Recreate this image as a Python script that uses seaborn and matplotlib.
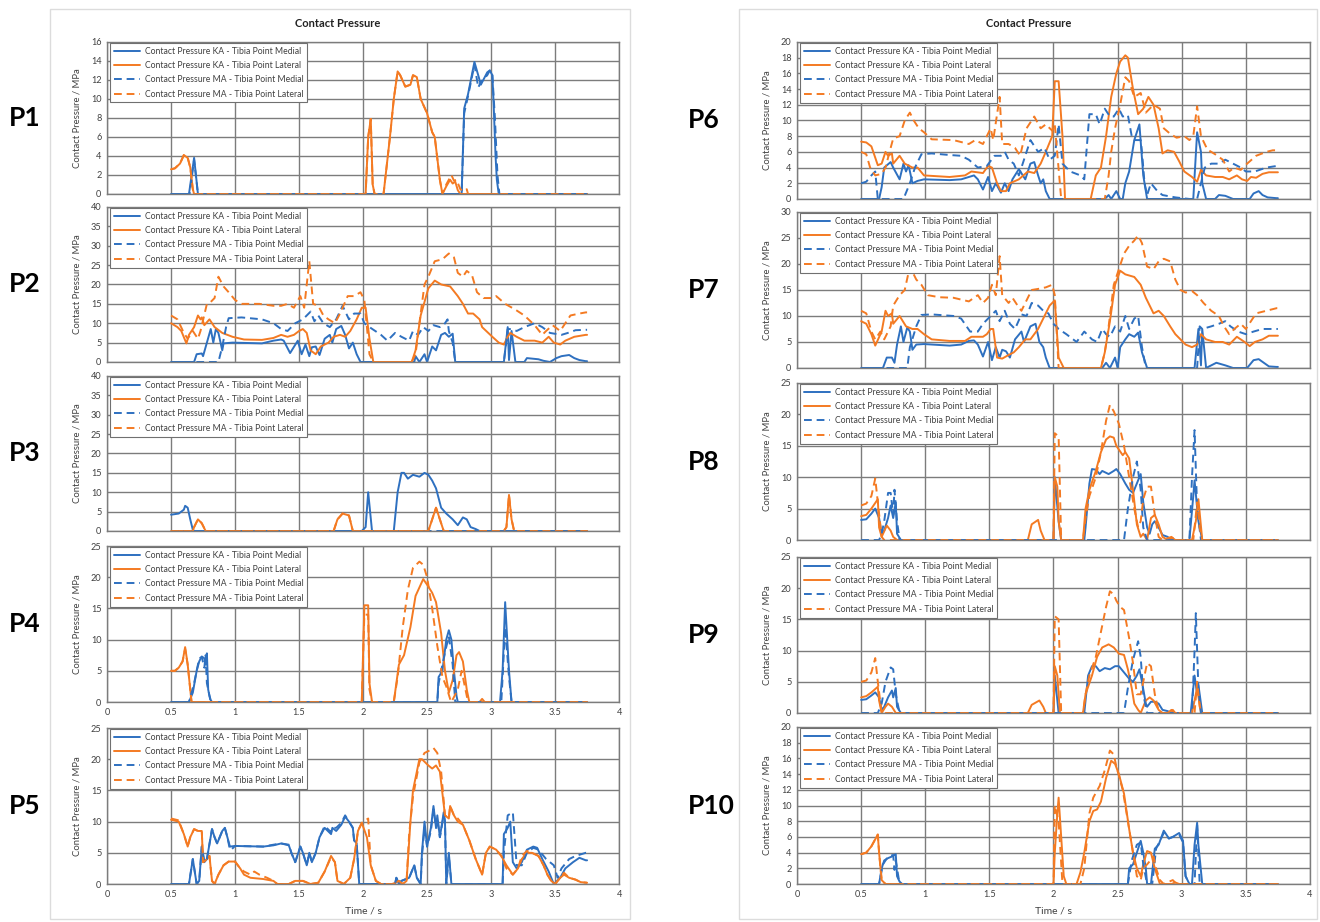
import numpy as np
import pandas as pd
import matplotlib
matplotlib.use("Agg")
import matplotlib.pyplot as plt
import seaborn as sns
from matplotlib.patches import Rectangle

# ---- series names / colours ----
SERIES = ["Contact Pressure KA - Tibia Point Medial",
          "Contact Pressure KA - Tibia Point Lateral",
          "Contact Pressure MA - Tibia Point Medial",
          "Contact Pressure MA - Tibia Point Lateral"]
BLUE = "#2E70C0"
ORANGE = "#F47A22"

# ---- P1 ----
p1_kam_t = [0.5, 0.64, 0.68, 0.71, 2.77, 2.79, 2.82, 2.87, 2.91, 2.92, 2.97, 2.99, 3.01, 3.02, 3.035, 3.045, 3.06, 3.75]
p1_kam_v = [0, 0, 3.8, 0, 0, 9, 10.5, 13.9, 12, 11.5, 12.8, 13, 12.5, 9.5, 4, 1.5, 0, 0]
p1_kal_t = [0.5, 0.53, 0.57, 0.60, 0.63, 0.65, 0.67, 0.68, 2.02, 2.04, 2.06, 2.075, 2.09, 2.16, 2.21, 2.24, 2.27, 2.29,
            2.33, 2.37, 2.39, 2.42, 2.45, 2.50, 2.54, 2.56, 2.60, 2.62, 2.65, 2.68, 2.70, 2.72, 2.74, 2.76, 3.75]
p1_kal_v = [2.6, 2.7, 3.2, 4.1, 3.8, 2.8, 0.5, 0, 0, 6, 7.9, 1, 0, 0, 6, 10, 12.9, 12.5,
            11.3, 11.5, 12.5, 12.3, 10, 8.5, 6.5, 6, 1.5, 0, 0.8, 1.5, 1.1, 1.3, 0.4, 0, 0]
p1_mam_t = [0.5, 0.645, 0.68, 0.71, 2.77, 2.79, 2.82, 2.87, 2.90, 2.92, 2.97, 2.99, 3.01, 3.03, 3.05, 3.065, 3.75]
p1_mam_v = [0, 0, 3.6, 0, 0, 8.5, 10.3, 13.6, 11.2, 11.8, 12.5, 13, 12.5, 8, 2, 0, 0]
p1_mal_t = [0.5, 0.53, 0.57, 0.60, 0.63, 0.65, 0.67, 0.68, 2.02, 2.04, 2.06, 2.075, 2.09, 2.16, 2.21, 2.24, 2.27, 2.29,
            2.33, 2.37, 2.39, 2.42, 2.45, 2.50, 2.54, 2.56, 2.60, 2.62, 2.65, 2.69, 2.71, 2.73, 2.76, 2.79, 2.81, 2.82, 3.75]
p1_mal_v = [2.6, 2.7, 3.2, 4.1, 3.8, 2.8, 0.5, 0, 0, 6, 7.9, 1, 0, 0, 6, 10, 12.9, 12.5,
            11.3, 11.5, 12.5, 12.3, 10, 8.5, 6.5, 6, 1.5, 0, 1.0, 2.0, 1.4, 1.5, 0.5, 0.3, 0.5, 0, 0]

# ---- P2 ----
p2_kam_t = [0.5, 0.68, 0.70, 0.74, 0.75, 0.78, 0.81, 0.83, 0.85, 0.87, 0.90, 0.91, 0.98, 1.21, 1.30, 1.36, 1.38, 1.43,
            1.49, 1.52, 1.55, 1.58, 1.60, 1.63, 1.66, 1.70, 1.74, 1.76, 1.79, 1.83, 1.86, 1.89, 1.92, 1.95, 1.98,
            2.40, 2.41, 2.44, 2.48, 2.50, 2.54, 2.57, 2.61, 2.64, 2.67, 2.70, 2.72, 3.10, 3.13, 3.14, 3.16, 3.19,
            3.26, 3.28, 3.37, 3.41, 3.46, 3.51, 3.55, 3.61, 3.65, 3.69, 3.74, 3.75]
p2_kam_v = [0, 0, 2, 2.2, 1.5, 5, 8.5, 5, 8.5, 7.5, 3, 4.8, 5, 4.8, 5.5, 5.8, 5.5, 2.3,
            5.5, 2, 4.5, 1.5, 3.8, 4, 1.8, 6, 7, 5, 8.5, 9.3, 7, 3.5, 5, 2, 0,
            0, 1.5, 0, 2, 0, 4, 3, 7, 7.5, 6.5, 7.3, 0, 0, 9, 0.5, 8, 0,
            0, 1, 0.7, 0.3, 0, 1, 1.5, 1.8, 1, 0.5, 0.2, 0.2]
p2_kal_t = [0.5, 0.55, 0.58, 0.62, 0.64, 0.68, 0.71, 0.73, 0.74, 0.76, 0.80, 0.84, 0.90, 0.98, 1.07, 1.21, 1.30, 1.36,
            1.41, 1.46, 1.50, 1.53, 1.56, 1.59, 1.63, 1.67, 1.73, 1.77, 1.82, 1.86, 1.90, 1.95, 1.99, 2.02, 2.05, 2.08,
            2.38, 2.41, 2.45, 2.51, 2.56, 2.61, 2.68, 2.74, 2.78, 2.82, 2.86, 2.91, 2.93, 3.01, 3.06, 3.10, 3.13, 3.15,
            3.20, 3.26, 3.34, 3.40, 3.45, 3.49, 3.54, 3.58, 3.65, 3.74, 3.75]
p2_kal_v = [10, 9, 8, 4.8, 7, 9, 12, 11, 11.5, 9.5, 11, 9, 7.5, 6.5, 5.8, 5.7, 6.2, 7,
            6.5, 7, 8, 8.5, 7.5, 3, 2, 4, 5, 6.5, 7, 6.5, 8, 11, 14, 14, 6, 0,
            0, 3, 12, 19, 21, 20, 19.5, 17, 15, 12.5, 12.5, 11, 9, 6.5, 5, 4.5, 6.5, 7.5,
            6.5, 5.5, 5.5, 5, 6.5, 5, 4.5, 5.5, 6.5, 7, 7]
p2_mam_t = [0.5, 0.87, 0.90, 0.93, 0.95, 1.05, 1.21, 1.30, 1.36, 1.41, 1.47, 1.53, 1.59, 1.62, 1.65, 1.69, 1.74, 1.79,
            1.84, 1.89, 1.93, 1.98, 2.01, 2.05, 2.14, 2.19, 2.25, 2.30, 2.36, 2.39, 2.43, 2.47, 2.51, 2.55, 2.60, 2.63,
            2.66, 2.67, 2.70, 2.72, 3.10, 3.13, 3.16, 3.20, 3.26, 3.34, 3.40, 3.46, 3.55, 3.60, 3.66, 3.74, 3.75]
p2_mam_v = [0, 0, 4, 9, 11.3, 11.5, 11, 10, 8.5, 8, 10, 11, 13, 10.5, 12, 10, 9, 11,
            14.5, 11, 12.5, 12.5, 10, 9, 7, 5.5, 7.5, 6.5, 5.5, 8, 7, 9, 8, 9.5, 9, 9.5,
            11, 8, 5, 0, 0, 8.5, 8.5, 8, 9, 10, 9, 7.5, 7, 7.5, 8.2, 8.3, 8.3]
p2_mal_t = [0.5, 0.55, 0.60, 0.63, 0.67, 0.71, 0.73, 0.78, 0.81, 0.84, 0.87, 0.91, 0.95, 1.00, 1.05, 1.19, 1.30, 1.36,
            1.41, 1.46, 1.51, 1.54, 1.58, 1.61, 1.65, 1.69, 1.73, 1.78, 1.82, 1.88, 1.93, 1.98, 2.01, 2.05, 2.08,
            2.38, 2.41, 2.44, 2.48, 2.51, 2.56, 2.62, 2.67, 2.71, 2.74, 2.78, 2.81, 2.85, 2.89, 2.94, 3.01, 3.04,
            3.11, 3.19, 3.26, 3.34, 3.40, 3.43, 3.48, 3.54, 3.58, 3.62, 3.69, 3.74, 3.75]
p2_mal_v = [12, 11, 7.5, 6, 8, 6, 8, 15, 15.5, 16.5, 22, 19.5, 18, 16, 15, 15, 14.5, 14.5,
            15, 14, 17, 14, 26, 15, 14.5, 12, 11, 10, 12.5, 17, 17, 18, 16, 2, 0,
            0, 2, 10, 20, 22, 26, 26.5, 28, 27, 23, 22, 23.5, 22.5, 18, 16.5, 16.5, 17,
            15, 13.5, 12, 9.5, 7, 8, 9.5, 8, 10, 12, 12.5, 12.8, 12.8]

# ---- P3 ----
p3_kam_t = [0.5, 0.56, 0.60, 0.61, 0.63, 0.65, 0.67, 0.68, 1.99, 2.02, 2.04, 2.07, 2.24, 2.27, 2.30, 2.32, 2.35, 2.39,
            2.44, 2.48, 2.51, 2.54, 2.57, 2.61, 2.65, 2.70, 2.74, 2.78, 2.81, 2.84, 2.88, 2.91, 3.75]
p3_kam_v = [4.2, 4.5, 5.5, 6.5, 6, 3, 0.3, 0, 0, 1, 10, 0, 0, 10, 15, 15, 13.5, 14.5,
            14, 15, 14.5, 13, 11, 6, 4.5, 3, 1.5, 3.5, 3, 1, 0.5, 0, 0]
p3_kal_t = [0.5, 0.67, 0.68, 0.71, 0.74, 0.77, 1.77, 1.80, 1.84, 1.89, 1.92, 2.51, 2.55, 2.57, 2.59, 2.63,
            3.10, 3.12, 3.14, 3.16, 3.18, 3.75]
p3_kal_v = [0, 0, 1, 3, 2, 0, 0, 3, 4.5, 4, 0, 0, 4, 6, 4, 0, 0, 1, 9.3, 3, 0, 0]
p3_mam_t = [0.5, 3.75]
p3_mam_v = [0, 0]
p3_mal_t = p3_kal_t
p3_mal_v = p3_kal_v

# ---- P4 ----
p4_kam_t = [0.5, 0.64, 0.67, 0.70, 0.72, 0.74, 0.76, 0.77, 0.78, 0.79, 0.80, 0.81, 0.82, 2.58, 2.59, 2.62, 2.65, 2.67,
            2.69, 2.71, 2.73, 2.74, 3.07, 3.09, 3.11, 3.14, 3.16, 3.75]
p4_kam_v = [0, 0, 1.5, 5, 6.5, 7.3, 7, 6, 7.8, 2, 1, 0.3, 0, 0, 4, 5, 10, 11.5,
            10, 5, 1, 0, 0, 5, 16, 5, 0, 0]
p4_kal_t = [0.5, 0.53, 0.56, 0.59, 0.61, 0.63, 0.65, 0.66, 1.99, 2.01, 2.04, 2.05, 2.07, 2.24, 2.25, 2.28, 2.32, 2.37,
            2.41, 2.47, 2.51, 2.54, 2.57, 2.61, 2.64, 2.67, 2.70, 2.73, 2.75, 2.78, 2.81, 2.83, 2.91, 2.93, 2.95, 3.75]
p4_kal_v = [5, 5, 5.5, 6.5, 8.8, 6, 2, 0, 0, 15.5, 15.5, 3, 0, 0, 1.5, 6, 7.5, 12,
            17, 19.7, 18.5, 17.5, 16, 11, 5, 1.5, 3.5, 7.5, 8, 6.5, 2, 0, 0, 0.5, 0, 0]
p4_mam_t = [0.5, 0.64, 0.68, 0.72, 0.74, 0.76, 0.77, 0.78, 0.81, 2.58, 2.59, 2.64, 2.67, 2.70, 2.72,
            3.08, 3.09, 3.11, 3.14, 3.16, 3.75]
p4_mam_v = [0, 0, 3, 7, 7.2, 5.5, 7.5, 3, 0, 0, 3, 8, 10.5, 6, 0, 0, 4, 12, 4, 0, 0]
p4_mal_t = [0.5, 0.53, 0.56, 0.59, 0.61, 0.63, 0.65, 0.66, 1.99, 2.01, 2.04, 2.05, 2.07, 2.24, 2.27, 2.31, 2.35, 2.39,
            2.44, 2.47, 2.50, 2.54, 2.58, 2.62, 2.65, 2.68, 2.69, 2.74, 2.77, 2.79, 2.82, 3.75]
p4_mal_v = [5, 5, 5.5, 6.5, 8.5, 6, 2, 0, 0, 14, 14, 2, 0, 0, 4, 12, 18, 21.5,
            22.5, 22, 20, 15, 9, 4, 2.5, 0.5, 0, 2, 5, 3, 0, 0]

# ---- P5 ----
p5_kam_t = [0.5, 0.64, 0.67, 0.70, 0.72, 0.74, 0.76, 0.78, 0.82, 0.84, 0.86, 0.90, 0.92, 0.94, 0.96, 1.00, 1.22, 1.30,
            1.36, 1.42, 1.44, 1.47, 1.51, 1.53, 1.56, 1.58, 1.60, 1.63, 1.66, 1.70, 1.75, 1.76, 1.79, 1.83, 1.86, 1.89,
            1.92, 1.93, 1.95, 1.97, 2.25, 2.26, 2.28, 2.30, 2.36, 2.40, 2.42, 2.45, 2.46, 2.48, 2.50, 2.53, 2.55, 2.57,
            2.58, 2.60, 2.63, 2.64, 2.65, 2.67, 2.69, 3.09, 3.10, 3.13, 3.15, 3.17, 3.20, 3.24, 3.28, 3.33, 3.36, 3.40,
            3.45, 3.49, 3.54, 3.58, 3.64, 3.69, 3.74, 3.75]
p5_kam_v = [0, 0, 4, 0, 0.5, 6, 3.5, 4, 8.8, 7.5, 6.5, 8.5, 9, 7.5, 6, 6.1, 6, 6.2,
            6.5, 6.2, 5, 3.5, 6, 5, 3, 5, 3.5, 5, 7.5, 9, 8, 9, 8.5, 9.5, 10.8, 10,
            9, 7, 6.5, 0, 0, 1, 0, 0.5, 1, 3, 1, 0, 5, 10, 6, 9, 12.5, 9,
            11, 7.5, 11.5, 10, 0, 5, 0, 0, 8, 9, 10, 3.5, 2.5, 3.5, 5.5, 6, 5.8, 4,
            2, 0, 1, 2.5, 3.5, 4.2, 3.8, 3.8]
p5_kal_t = [0.5, 0.56, 0.60, 0.63, 0.65, 0.68, 0.71, 0.74, 0.75, 0.78, 0.80, 0.82, 0.84, 0.87, 0.91, 0.95, 1.00, 1.04,
            1.07, 1.12, 1.22, 1.30, 1.33, 1.42, 1.47, 1.53, 1.59, 1.65, 1.70, 1.75, 1.78, 1.80, 1.85, 1.90, 1.93, 1.96,
            1.99, 2.03, 2.06, 2.10, 2.14, 2.23, 2.28, 2.31, 2.34, 2.37, 2.39, 2.44, 2.46, 2.51, 2.54, 2.57, 2.60, 2.64,
            2.67, 2.68, 2.71, 2.74, 2.78, 2.83, 2.88, 2.93, 2.96, 2.99, 3.04, 3.08, 3.12, 3.17, 3.21, 3.24, 3.28, 3.32,
            3.37, 3.41, 3.44, 3.47, 3.50, 3.54, 3.57, 3.61, 3.66, 3.70, 3.75]
p5_kal_v = [10.3, 10, 8, 6, 7.5, 8.8, 8.5, 8.5, 3.5, 4, 4.5, 0.5, 0, 1.5, 3, 3.6, 3.6, 2.5,
            1.5, 1, 0.8, 0.5, 0, 0, 0.5, 0.5, 0, 0.2, 2, 4.5, 3.5, 0.5, 0, 1, 4, 8.5,
            9.8, 7.5, 3, 0.5, 0, 0, 0.5, 0, 0.5, 10, 15, 20, 20, 19, 18.5, 19, 18, 11,
            10.5, 12.5, 11, 10, 9.5, 7, 4, 1.5, 5, 6, 5.5, 4.5, 3, 1.5, 2.5, 4, 5, 5,
            4.5, 3, 1.5, 0.5, 0, 1, 1.5, 1, 0.7, 0.3, 0.2]
p5_mam_t = [0.5, 0.64, 0.67, 0.70, 0.72, 0.74, 0.76, 0.78, 0.82, 0.84, 0.86, 0.90, 0.92, 0.94, 0.96, 0.97, 1.00, 1.22,
            1.30, 1.36, 1.42, 1.44, 1.47, 1.51, 1.53, 1.56, 1.58, 1.60, 1.63, 1.66, 1.70, 1.75, 1.76, 1.79, 1.83, 1.86,
            1.89, 1.92, 1.93, 1.95, 1.97, 2.25, 2.26, 2.28, 2.30, 2.36, 2.40, 2.42, 2.45, 2.46, 2.48, 2.50, 2.53, 2.55,
            2.57, 2.58, 2.60, 2.63, 2.64, 2.65, 2.67, 2.69, 3.09, 3.10, 3.13, 3.17, 3.20, 3.24, 3.28, 3.33, 3.37, 3.43,
            3.49, 3.52, 3.55, 3.61, 3.66, 3.74, 3.75]
p5_mam_v = [0, 0, 4, 0, 0.5, 6, 3.5, 4, 8.8, 7.5, 6.5, 8.5, 9, 7.5, 5.5, 5.5, 6.1, 6,
            6.3, 6.5, 6.3, 5, 3.5, 6, 5, 3, 5, 3.5, 5, 7.5, 9.3, 8.3, 9, 9, 9.8, 11,
            10, 9, 7, 6.5, 0, 0, 1, 0, 0.5, 1, 3, 1, 0, 4.5, 9, 6, 8.5, 12, 9,
            10.5, 7.5, 11, 10, 0, 4.5, 0, 0, 5, 11, 11.5, 3, 3, 5, 5.8, 5.5, 4,
            3, 1, 2.5, 4, 4.5, 5, 5]
p5_mal_t = [0.5, 0.56, 0.60, 0.63, 0.65, 0.68, 0.71, 0.74, 0.75, 0.78, 0.80, 0.82, 0.84, 0.87, 0.91, 0.95, 1.00, 1.04,
            1.07, 1.12, 1.15, 1.19, 1.25, 1.30, 1.33, 1.42, 1.47, 1.53, 1.59, 1.65, 1.70, 1.75, 1.78, 1.80, 1.85, 1.90,
            1.93, 1.96, 1.99, 2.04, 2.06, 2.10, 2.14, 2.23, 2.28, 2.31, 2.34, 2.36, 2.39, 2.44, 2.48, 2.53, 2.55, 2.58,
            2.61, 2.64, 2.67, 2.68, 2.71, 2.74, 2.78, 2.83, 2.88, 2.93, 2.96, 2.99, 3.04, 3.08, 3.12, 3.17, 3.21, 3.24,
            3.28, 3.32, 3.37, 3.41, 3.44, 3.47, 3.50, 3.54, 3.57, 3.61, 3.66, 3.70, 3.75]
p5_mal_v = [10.5, 10.2, 8, 6, 7.5, 8.8, 8.5, 8.5, 3.5, 4, 4.5, 0.5, 0, 1.5, 3, 3.6, 3.6, 2.5,
            2, 1.5, 2, 1.5, 1, 0.5, 0, 0, 0.5, 0.5, 0, 0.2, 2, 4.3, 3.5, 0.5, 0, 1,
            4, 8.5, 9.8, 10.5, 3, 0.5, 0, 0, 0.5, 0, 0.5, 8, 14, 19.5, 21, 21.5, 21.8, 21,
            18, 11, 10.5, 12.5, 11, 10.5, 9.5, 7, 4, 1.5, 5, 6, 5.5, 4.5, 2.5, 1.5, 2.5, 4.5,
            5.3, 5, 4.5, 3, 1.5, 0.5, 0, 1, 1.8, 1, 0.7, 0.3, 0.2]

# ---- P6 ----
p6_kam_t = [0.5, 0.64, 0.66, 0.68, 0.73, 0.75, 0.80, 0.83, 0.85, 0.87, 0.90, 0.94, 0.99, 1.19, 1.28, 1.34, 1.38, 1.41,
            1.45, 1.49, 1.52, 1.55, 1.59, 1.62, 1.65, 1.68, 1.73, 1.78, 1.82, 1.85, 1.88, 1.90, 1.92, 1.94, 1.97,
            2.40, 2.43, 2.45, 2.49, 2.52, 2.54, 2.56, 2.59, 2.63, 2.67, 2.70, 2.73, 3.09, 3.12, 3.15, 3.16, 3.19,
            3.26, 3.29, 3.34, 3.40, 3.53, 3.56, 3.60, 3.63, 3.67, 3.74, 3.75]
p6_kam_v = [0, 0, 1.5, 4, 4.7, 4, 2.5, 4.5, 3.5, 4.3, 2, 2.3, 2.5, 2.4, 2.5, 2.8, 3, 2.5,
            1.2, 2.8, 1, 2, 0.8, 2, 1, 2.5, 3.8, 2.5, 4.5, 4.7, 3, 2, 2.5, 1, 0,
            0, 0.5, 0, 1, 0, 0, 2, 3.5, 7.5, 9.5, 3, 0, 0, 8.5, 6, 2, 0,
            0, 0.5, 0.4, 0, 0, 0.7, 1, 0.5, 0.2, 0.1, 0.1]
p6_kal_t = [0.5, 0.54, 0.58, 0.63, 0.66, 0.69, 0.71, 0.74, 0.75, 0.80, 0.84, 0.90, 0.94, 0.99, 1.19, 1.31, 1.36, 1.45,
            1.49, 1.52, 1.56, 1.59, 1.63, 1.66, 1.73, 1.80, 1.85, 1.90, 1.94, 1.99, 2.01, 2.04, 2.07, 2.09,
            2.29, 2.33, 2.37, 2.41, 2.45, 2.49, 2.52, 2.56, 2.58, 2.62, 2.66, 2.70, 2.74, 2.78, 2.82, 2.85, 2.89,
            2.94, 2.98, 3.02, 3.08, 3.12, 3.15, 3.19, 3.26, 3.32, 3.37, 3.43, 3.47, 3.51, 3.54, 3.58, 3.63, 3.68,
            3.74, 3.75]
p6_kal_v = [7.3, 7.2, 6.7, 4.3, 4.5, 6, 5.5, 5.8, 4.5, 5.5, 4.5, 4, 4, 3, 2.8, 3, 3.5, 3.3,
            4.2, 4, 2, 1, 1, 2, 2.5, 3.5, 3.3, 4.5, 6, 8, 15, 15, 8, 0,
            0, 3, 4, 8, 13, 16, 17.5, 18.3, 18, 14, 10.8, 11.5, 13, 12, 9, 5.8, 6.2,
            6, 4.8, 3.5, 2.8, 2.2, 3.7, 3, 2.8, 2.8, 2.5, 3, 2.5, 2.3, 2.8, 2.7, 3.2, 3.4,
            3.4, 3.4]
p6_mam_t = [0.5, 0.54, 0.58, 0.61, 0.63, 0.83, 0.88, 0.92, 0.97, 1.05, 1.19, 1.28, 1.34, 1.41, 1.48, 1.54, 1.59, 1.62,
            1.65, 1.69, 1.73, 1.78, 1.82, 1.88, 1.93, 1.97, 2.01, 2.04, 2.07, 2.13, 2.21, 2.24, 2.28, 2.33, 2.36,
            2.40, 2.44, 2.47, 2.51, 2.54, 2.58, 2.61, 2.63, 2.68, 2.69, 2.71, 2.73, 2.76, 2.81, 2.85, 2.95, 3.06,
            3.12, 3.15, 3.18, 3.23, 3.29, 3.34, 3.40, 3.46, 3.50, 3.57, 3.66, 3.74, 3.75]
p6_mam_v = [2, 2.2, 3, 3.5, 0, 0, 2, 4, 5.7, 5.8, 5.6, 5.5, 5, 4, 4.2, 5.5, 5.5, 6,
            5, 4.5, 3, 5.5, 7.5, 6, 6.5, 5, 5.5, 9.5, 4.5, 3.5, 3, 2.5, 10.8, 10.8, 9.5,
            11.5, 10.5, 10.5, 11.5, 10.5, 10.7, 8, 7.5, 7.5, 6, 2, 0.5, 2, 1, 0.5, 0.2, 0,
            0, 2, 4, 4.5, 4.5, 5, 4.5, 4, 3.5, 3.5, 4, 4.2, 4.2]
p6_mal_t = [0.5, 0.54, 0.57, 0.61, 0.66, 0.69, 0.73, 0.75, 0.80, 0.84, 0.88, 0.91, 0.95, 0.99, 1.05, 1.22, 1.34, 1.39,
            1.45, 1.48, 1.51, 1.53, 1.58, 1.60, 1.65, 1.70, 1.74, 1.79, 1.85, 1.90, 1.94, 1.99, 2.01, 2.06,
            2.40, 2.43, 2.45, 2.48, 2.52, 2.56, 2.59, 2.63, 2.68, 2.72, 2.78, 2.83, 2.86, 2.91, 2.96, 3.02, 3.06,
            3.09, 3.12, 3.15, 3.20, 3.26, 3.32, 3.37, 3.41, 3.46, 3.51, 3.58, 3.66, 3.71, 3.75]
p6_mal_v = [6, 5.7, 4, 3, 3.2, 4, 6.5, 7.7, 8, 10, 11, 10, 9, 8.5, 7.6, 7.5, 7, 7.5,
            7, 8, 9, 7.5, 13, 7, 7, 6.5, 5.5, 9, 10.5, 9, 9.5, 8.7, 9.5, 0,
            0, 3, 6, 9, 12, 15.5, 15, 13, 13.5, 11, 12, 11.5, 9, 8.3, 7.8, 8, 7.5,
            8, 11.8, 8, 6.3, 5.7, 5, 3.5, 4, 3.7, 4.5, 5.5, 6, 6.2, 6.2]

# ---- P7 ----
p7_kam_t = [0.5, 0.67, 0.70, 0.74, 0.76, 0.78, 0.81, 0.83, 0.86, 0.88, 0.90, 0.93, 0.99, 1.19, 1.28, 1.34, 1.38, 1.41,
            1.45, 1.49, 1.52, 1.55, 1.58, 1.60, 1.63, 1.66, 1.70, 1.75, 1.77, 1.82, 1.86, 1.89, 1.92, 1.94, 1.97,
            2.38, 2.41, 2.44, 2.48, 2.50, 2.52, 2.56, 2.59, 2.63, 2.66, 2.69, 2.73, 3.10, 3.13, 3.15, 3.16, 3.19,
            3.27, 3.34, 3.40, 3.51, 3.56, 3.60, 3.64, 3.68, 3.74, 3.75]
p7_kam_v = [0, 0, 2, 2, 1, 4.5, 8, 5, 7.8, 7, 3.5, 4.5, 4.6, 4.3, 4.5, 5.2, 5.3, 4.5,
            2.2, 5, 1.5, 4, 2, 3.5, 3.2, 2, 5.5, 7, 5, 8, 8.5, 5, 4, 2, 0,
            0, 1, 0, 2, 0, 4, 5.5, 6.5, 6, 6.8, 3, 0, 0, 7.5, 0.5, 7.5, 0,
            1, 0.5, 0, 0, 1.5, 1.7, 1, 0.3, 0.2, 0.2]
p7_kal_t = [0.5, 0.54, 0.58, 0.61, 0.66, 0.69, 0.71, 0.74, 0.75, 0.80, 0.85, 0.90, 0.94, 0.99, 1.05, 1.19, 1.31, 1.36,
            1.45, 1.48, 1.51, 1.53, 1.56, 1.60, 1.65, 1.69, 1.73, 1.78, 1.82, 1.88, 1.93, 1.97, 2.01, 2.04, 2.08,
            2.37, 2.40, 2.44, 2.48, 2.52, 2.56, 2.63, 2.68, 2.72, 2.78, 2.82, 2.86, 2.91, 2.95, 2.99, 3.03, 3.08,
            3.12, 3.15, 3.19, 3.26, 3.32, 3.37, 3.43, 3.49, 3.53, 3.57, 3.63, 3.68, 3.74, 3.75]
p7_kal_v = [9, 8.5, 6.5, 4.3, 7, 11, 10, 10.5, 8.5, 10, 8, 7.5, 7.5, 6.5, 5.5, 5.2, 5.2, 6,
            6, 6.5, 7.5, 7.5, 2, 1.8, 2.5, 3, 4, 5.5, 5.5, 7.5, 10, 12, 13, 2, 0,
            0, 3, 9, 16, 18.7, 18, 17.5, 16, 13.5, 10.5, 11, 10, 8, 6.5, 5.5, 4.5, 4,
            4.5, 6.5, 5.5, 5, 5, 4.5, 6, 5, 4.2, 5, 5.5, 6.2, 6.2, 6.2]
p7_mam_t = [0.5, 0.86, 0.88, 0.93, 0.97, 1.05, 1.22, 1.28, 1.35, 1.41, 1.45, 1.51, 1.55, 1.58, 1.62, 1.66, 1.70, 1.75,
            1.79, 1.83, 1.88, 1.92, 1.96, 2.00, 2.04, 2.10, 2.18, 2.24, 2.30, 2.34, 2.38, 2.41, 2.44, 2.48, 2.52,
            2.56, 2.59, 2.63, 2.66, 2.69, 2.72, 3.12, 3.14, 3.16, 3.23, 3.29, 3.34, 3.38, 3.44, 3.50, 3.56, 3.63,
            3.74, 3.75]
p7_mam_v = [0, 0, 4, 8, 10.2, 10.3, 10, 9.5, 7, 7, 8.5, 10, 11, 9, 11, 8.5, 7.5, 10.3,
            10, 12.5, 12, 11, 10.5, 8.5, 7.5, 6.5, 5, 7, 5.5, 5, 7.5, 6.5, 6, 8, 7,
            10, 7.5, 9.5, 10, 4, 0, 0, 8, 7.5, 8, 8.5, 9, 8, 7, 6.5, 7, 7.5,
            7.5, 7.5]
p7_mal_t = [0.5, 0.54, 0.58, 0.61, 0.65, 0.68, 0.73, 0.75, 0.80, 0.84, 0.88, 0.93, 0.97, 1.02, 1.11, 1.22, 1.34, 1.38,
            1.41, 1.45, 1.49, 1.52, 1.55, 1.58, 1.60, 1.65, 1.68, 1.72, 1.75, 1.79, 1.83, 1.88, 1.94, 1.99, 2.01, 2.04,
            2.37, 2.40, 2.43, 2.47, 2.51, 2.55, 2.59, 2.63, 2.66, 2.69, 2.73, 2.78, 2.82, 2.86, 2.91, 2.95, 2.99,
            3.03, 3.08, 3.12, 3.17, 3.23, 3.29, 3.33, 3.37, 3.41, 3.46, 3.50, 3.54, 3.58, 3.66, 3.74, 3.75]
p7_mal_v = [11, 10.5, 7, 5.5, 7, 5.5, 8, 12, 14, 15, 19.5, 17, 16, 14, 13.6, 13.5, 12.8, 13.5,
            14, 12.5, 13.5, 16, 14, 21.5, 14, 12.5, 13.5, 12, 11, 13, 15, 15.2, 15.5, 16, 14, 0,
            0, 3, 8, 16, 19, 22, 23.5, 24.5, 25.5, 24, 19.5, 19, 20.5, 21, 20.5, 17, 15,
            14.5, 14.8, 14, 12.5, 11, 10, 8, 6.5, 7.5, 8.5, 7.5, 9, 10.5, 11, 11.5, 11.5]

# ---- P8 ----
p8_kam_t = [0.5, 0.54, 0.58, 0.61, 0.64, 0.66, 0.68, 0.71, 0.73, 0.75, 0.77, 0.78, 0.81, 2.00, 2.01, 2.04, 2.06,
            2.24, 2.25, 2.28, 2.30, 2.33, 2.36, 2.38, 2.43, 2.47, 2.49, 2.52, 2.56, 2.59, 2.62, 2.65, 2.68, 2.70,
            2.73, 2.75, 2.77, 2.79, 2.82, 2.85, 2.89, 2.92, 3.06, 3.09, 3.10, 3.13, 3.16, 3.75]
p8_kam_v = [3.2, 3.3, 4.2, 5, 3.5, 1, 1.5, 3.5, 5.5, 3.5, 6, 1, 0, 0, 10, 3, 0,
            0, 2, 9, 11.3, 11.2, 10.5, 11, 10.5, 11, 11.3, 10.5, 9, 8, 7.5, 9, 10.5, 6,
            2, 1, 2.5, 3, 2, 0.8, 0.5, 0, 0, 7, 9.5, 3, 0, 0]
p8_kal_t = [0.5, 0.54, 0.58, 0.63, 0.64, 0.66, 0.70, 0.73, 0.75, 0.78, 1.80, 1.83, 1.88, 1.90, 1.93, 2.00, 2.01,
            2.03, 2.04, 2.06, 2.23, 2.25, 2.28, 2.33, 2.37, 2.41, 2.44, 2.47, 2.49, 2.54, 2.56, 2.59, 2.62, 2.65,
            2.68, 2.70, 2.73, 2.76, 2.79, 2.82, 2.85, 2.89, 2.93, 2.95, 3.08, 3.11, 3.13, 3.16, 3.75]
p8_kal_v = [3.8, 4, 5, 6.5, 2, 0.5, 2.3, 1.5, 0.5, 0, 0, 2.5, 3.2, 1.5, 0, 0, 10,
            8.5, 3, 0, 0, 5, 8, 11, 14, 16, 16.5, 16.3, 15, 13.5, 14, 13, 8, 2.5,
            0.5, 1, 0, 3.5, 4, 2.5, 0.5, 0, 0.3, 0, 0, 3, 6.5, 0, 0]
p8_mam_t = [0.5, 0.64, 0.66, 0.68, 0.71, 0.73, 0.75, 0.76, 0.78, 0.80, 2.55, 2.58, 2.62, 2.65, 2.68, 2.70, 2.73,
            3.06, 3.08, 3.10, 3.12, 3.15, 3.75]
p8_mam_v = [0, 0, 1, 3, 7.5, 7.5, 4, 8, 3, 0, 0, 5, 10, 12.5, 8, 2, 0, 0, 10, 17.5, 5, 0, 0]
p8_mal_t = [0.5, 0.54, 0.58, 0.61, 0.63, 0.66, 0.68, 2.00, 2.01, 2.04, 2.06, 2.23, 2.25, 2.28, 2.33, 2.37, 2.41,
            2.44, 2.47, 2.51, 2.55, 2.59, 2.63, 2.66, 2.68, 2.70, 2.73, 2.76, 2.79, 2.82, 2.85, 2.92, 2.95,
            3.09, 3.12, 3.14, 3.16, 3.75]
p8_mal_v = [5.5, 5.8, 7, 9.8, 6, 0.5, 0, 0, 17, 16.5, 0, 0, 3.5, 7, 10, 14, 19,
            21.5, 20.5, 18.5, 15, 10, 5, 2, 3, 6.5, 8.5, 8.5, 4, 0.5, 0, 0.5, 0,
            0, 6, 2, 0, 0]

# ---- P9 ----
p9_kam_t = [0.5, 0.54, 0.58, 0.61, 0.64, 0.66, 0.68, 0.71, 0.74, 0.75, 0.77, 0.78, 0.81, 2.00, 2.01, 2.04,
            2.24, 2.27, 2.30, 2.33, 2.36, 2.40, 2.44, 2.48, 2.51, 2.55, 2.59, 2.62, 2.65, 2.67, 2.69, 2.72,
            2.73, 2.76, 2.79, 2.82, 2.85, 2.89, 2.92, 3.07, 3.10, 3.12, 3.13, 3.16, 3.75]
p9_kam_v = [2.1, 2.2, 2.8, 3.3, 2.5, 0.5, 1, 2.5, 3.6, 2.5, 4, 1, 0, 0, 6, 0,
            0, 6, 7.5, 7.5, 6.7, 7.2, 7, 7.5, 7.5, 6.5, 5.5, 5, 6, 7, 5, 1.5,
            1, 1.8, 1.8, 1.5, 0.5, 0.3, 0, 0, 6, 3, 4.5, 0, 0]
p9_kal_t = [0.5, 0.54, 0.58, 0.63, 0.64, 0.66, 0.69, 0.71, 0.74, 0.77, 1.80, 1.83, 1.89, 1.92, 1.94, 2.00, 2.01,
            2.03, 2.05, 2.23, 2.25, 2.30, 2.34, 2.38, 2.43, 2.47, 2.51, 2.55, 2.58, 2.61, 2.63, 2.66, 2.68,
            2.72, 2.75, 2.78, 2.82, 2.85, 2.89, 2.92, 2.93, 3.08, 3.12, 3.15, 3.75]
p9_kal_v = [2.5, 2.7, 3.3, 4.2, 2, 0, 1, 1.5, 1, 0, 0, 1.3, 2, 1, 0, 0, 7.5,
            6, 0, 0, 3, 6, 9, 10.5, 11, 10.5, 9.5, 9.3, 7, 4, 1.5, 0.5, 0,
            2, 2.5, 2, 0.5, 0, 0, 0.5, 0, 0, 4, 0, 0]
p9_mam_t = [0.5, 0.63, 0.66, 0.69, 0.73, 0.75, 0.77, 0.80, 2.55, 2.58, 2.62, 2.66, 2.68, 2.70, 2.73,
            3.08, 3.10, 3.11, 3.13, 3.15, 3.75]
p9_mam_v = [0, 0, 1.5, 5, 7.3, 7, 3, 0, 0, 4, 8.5, 11.5, 9, 3, 0, 0, 10, 16, 4, 0, 0]
p9_mal_t = [0.5, 0.54, 0.58, 0.61, 0.63, 0.66, 2.00, 2.01, 2.04, 2.06, 2.23, 2.25, 2.28, 2.33, 2.37, 2.41,
            2.44, 2.47, 2.49, 2.52, 2.55, 2.59, 2.62, 2.65, 2.68, 2.70, 2.73, 2.76, 2.79, 2.82, 2.85,
            2.92, 2.93, 2.95, 3.10, 3.12, 3.14, 3.16, 3.75]
p9_mal_v = [5, 5.2, 6.5, 8.8, 5, 0, 0, 15.5, 15, 0, 0, 3, 6, 9, 13, 17,
            19.5, 19, 18, 17, 16.5, 12, 8, 3, 3, 5, 8, 7.5, 3, 0.3, 0,
            0, 0.5, 0, 0, 5, 1, 0, 0]

# ---- P10 ----
p10_kam_t = [0.5, 0.64, 0.66, 0.68, 0.71, 0.74, 0.77, 0.78, 0.80, 0.82, 2.58, 2.59, 2.62, 2.65, 2.68, 2.70, 2.72,
             2.73, 2.76, 2.79, 2.82, 2.86, 2.90, 2.93, 2.98, 3.01, 3.03, 3.06, 3.08, 3.10, 3.12, 3.13, 3.16, 3.75]
p10_kam_v = [0, 0, 2, 3, 3.3, 3.5, 3.8, 1, 0.3, 0, 0, 2, 2.5, 4, 5.5, 4, 2,
             0, 0, 4.5, 5, 6.8, 5.8, 6, 6.5, 5.5, 1, 0, 0, 5, 7.8, 5, 0, 0]
p10_kal_t = [0.5, 0.54, 0.58, 0.63, 0.64, 0.66, 0.69, 2.00, 2.01, 2.03, 2.04, 2.06, 2.08, 2.10, 2.18, 2.21, 2.24,
             2.28, 2.31, 2.34, 2.37, 2.41, 2.45, 2.48, 2.51, 2.55, 2.59, 2.62, 2.65, 2.68, 2.70, 2.73, 2.76,
             2.79, 2.82, 2.83, 2.92, 2.95, 2.98, 3.75]
p10_kal_v = [3.8, 4, 4.8, 6.3, 4, 0.5, 0, 0, 4, 9, 11, 6, 1, 0, 0, 1.5, 4,
             8, 9.3, 9.5, 10.5, 13.5, 15.7, 15.3, 14, 11.5, 7, 4, 2, 1, 2.5, 4.2, 4,
             2, 0.5, 0, 0, 0.2, 0, 0]
p10_mam_t = [0.5, 0.64, 0.67, 0.71, 0.75, 0.76, 0.77, 0.80, 2.58, 2.61, 2.65, 2.68, 2.70, 2.73, 2.77, 2.80,
             2.86, 2.90, 2.98, 3.01, 3.03, 3.06, 3.10, 3.12, 3.14, 3.75]
p10_mam_v = [0, 0, 2.5, 3.5, 3.7, 1.8, 3, 0, 0, 3, 5, 5.3, 2.5, 0, 0, 4.5,
             6.5, 5.8, 6.3, 5.3, 1, 0, 0, 7.5, 0, 0]
p10_mal_t = [0.5, 0.54, 0.58, 0.63, 0.64, 0.66, 0.69, 2.00, 2.01, 2.04, 2.07, 2.21, 2.24, 2.28, 2.31, 2.36,
             2.40, 2.44, 2.47, 2.49, 2.54, 2.58, 2.62, 2.65, 2.68, 2.70, 2.73, 2.78, 2.80, 2.83, 2.86,
             2.93, 2.96, 3.75]
p10_mal_v = [3.8, 4, 4.8, 6.3, 4, 0.5, 0, 0, 10, 8, 0, 0, 2, 9, 11, 12.5,
             14.5, 17, 16.5, 15, 12, 8, 4, 1, 0.5, 2, 2.5, 3.5, 2, 0.5, 0,
             0.5, 0, 0]

# ---- panel table: (label, series data, y max, y step, fig rect, x tick labels) ----
PANELS = [
    ("P1", [(p1_kam_t, p1_kam_v), (p1_kal_t, p1_kal_v), (p1_mam_t, p1_mam_v), (p1_mal_t, p1_mal_v)], 16, 2, [0.0811, 0.7896, 0.3879, 0.1649], False),
    ("P2", [(p2_kam_t, p2_kam_v), (p2_kal_t, p2_kal_v), (p2_mam_t, p2_mam_v), (p2_mal_t, p2_mal_v)], 40, 5, [0.0811, 0.6074, 0.3879, 0.1681], False),
    ("P3", [(p3_kam_t, p3_kam_v), (p3_kal_t, p3_kal_v), (p3_mam_t, p3_mam_v), (p3_mal_t, p3_mal_v)], 40, 5, [0.0811, 0.4241, 0.3879, 0.1681], False),
    ("P4", [(p4_kam_t, p4_kam_v), (p4_kal_t, p4_kal_v), (p4_mam_t, p4_mam_v), (p4_mal_t, p4_mal_v)], 25, 5, [0.0811, 0.2386, 0.3879, 0.1692], True),
    ("P5", [(p5_kam_t, p5_kam_v), (p5_kal_t, p5_kal_v), (p5_mam_t, p5_mam_v), (p5_mal_t, p5_mal_v)], 25, 5, [0.0811, 0.0412, 0.3879, 0.1692], True),
    ("P6", [(p6_kam_t, p6_kam_v), (p6_kal_t, p6_kal_v), (p6_mam_t, p6_mam_v), (p6_mal_t, p6_mal_v)], 20, 2, [0.6038, 0.7842, 0.3886, 0.1703], False),
    ("P7", [(p7_kam_t, p7_kam_v), (p7_kal_t, p7_kal_v), (p7_mam_t, p7_mam_v), (p7_mal_t, p7_mal_v)], 30, 5, [0.6038, 0.6009, 0.3886, 0.1692], False),
    ("P8", [(p8_kam_t, p8_kam_v), (p8_kal_t, p8_kal_v), (p8_mam_t, p8_mam_v), (p8_mal_t, p8_mal_v)], 25, 5, [0.6038, 0.4143, 0.3886, 0.1703], False),
    ("P9", [(p9_kam_t, p9_kam_v), (p9_kal_t, p9_kal_v), (p9_mam_t, p9_mam_v), (p9_mal_t, p9_mal_v)], 25, 5, [0.6038, 0.2267, 0.3886, 0.1692], False),
    ("P10", [(p10_kam_t, p10_kam_v), (p10_kal_t, p10_kal_v), (p10_mam_t, p10_mam_v), (p10_mal_t, p10_mal_v)], 20, 2, [0.6038, 0.0412, 0.3886, 0.1703], True),
]

COLORS = [BLUE, ORANGE, BLUE, ORANGE]
STYLES = ["-", "-", (0, (4, 2.5)), (0, (4, 2.5))]
X_TICKS = np.arange(0, 4.01, 0.5)

sns.set_style("white")
plt.rcParams["font.family"] = ["Lato", "DejaVu Sans"]
GRID = "#7c7c7c"
TXT = "#404040"

fig = plt.figure(figsize=(13.2, 9.22), dpi=100)

# light card outlines of the two source charts
for x0, w in [(0.038, 0.439), (0.560, 0.438)]:
    fig.patches.append(Rectangle((x0, 0.003), w, 0.987, transform=fig.transFigure,
                                 fill=False, edgecolor="#dcdcdc", lw=1.0))

for label, data, ymax, ystep, rect, show_x in PANELS:
    ax = fig.add_axes(rect)
    for (t, v), name, col, ls in zip(data, SERIES, COLORS, STYLES):
        sns.lineplot(x=t, y=v, ax=ax, color=col, linestyle=ls, lw=1.4,
                     label=name, estimator=None, sort=False)
    ax.set_xlim(0, 4)
    ax.set_ylim(0, ymax)
    ax.set_xticks(X_TICKS)
    y_ticks = np.arange(0, ymax + 0.01, ystep)
    ax.set_yticks(y_ticks)
    ax.set_yticklabels([f"{v:g}" for v in y_ticks])
    if show_x:
        ax.set_xticklabels([f"{v:g}" for v in X_TICKS])
    else:
        ax.set_xticklabels([])
    ax.tick_params(length=0, labelsize=6.6, colors=TXT, pad=4)
    ax.grid(True, color=GRID, lw=1.0)
    ax.set_axisbelow(True)
    for s in ax.spines.values():
        s.set_color(GRID)
        s.set_linewidth(1.0)
    ax.set_xlabel("")
    ax.set_ylabel("Contact Pressure / MPa", fontsize=6.8, color=TXT)
    ax.yaxis.set_label_coords(-0.05, 0.5)
    leg = ax.legend(loc="upper left", bbox_to_anchor=(0.006, 0.995), fontsize=6.2,
                    frameon=True, fancybox=False, edgecolor="#707070", framealpha=1,
                    handlelength=3.0, labelspacing=0.62, borderpad=0.45,
                    handletextpad=0.6, borderaxespad=0.0)
    leg.get_frame().set_linewidth(0.8)
    for txt in leg.get_texts():
        txt.set_color(TXT)
    # panel label to the left of the chart
    fig.text(0.007 if rect[0] < 0.5 else 0.521, rect[1] + rect[3] / 2, label,
             fontsize=19, fontweight="bold", ha="left", va="center", color="black")

for cx in (0.256, 0.779):
    fig.text(cx, 0.974, "Contact Pressure", fontsize=8, fontweight="bold",
             ha="center", va="center", color="#222222")
for cx in (0.275, 0.798):
    fig.text(cx, 0.012, "Time / s", fontsize=7.5, ha="center", va="center", color=TXT)

fig.savefig("out.png", dpi=100, facecolor="white")
